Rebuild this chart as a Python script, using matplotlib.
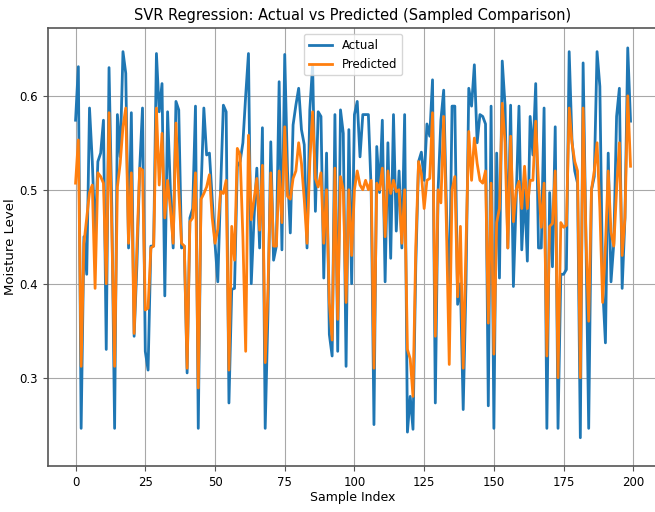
import numpy as np
import matplotlib
matplotlib.use("Agg")
import matplotlib.pyplot as plt

# sampled test points: measured vs SVR output
actual = [
    0.574, 0.631, 0.246, 0.450, 0.410, 0.587, 0.530, 0.449, 0.530, 0.539,
    0.574, 0.330, 0.630, 0.480, 0.246, 0.580, 0.535, 0.647, 0.624, 0.438,
    0.582, 0.344, 0.420, 0.523, 0.587, 0.328, 0.308, 0.440, 0.440, 0.645,
    0.583, 0.613, 0.387, 0.583, 0.500, 0.438, 0.594, 0.585, 0.438, 0.440,
    0.305, 0.470, 0.480, 0.589, 0.246, 0.500, 0.587, 0.537, 0.539, 0.490,
    0.443, 0.402, 0.500, 0.590, 0.583, 0.273, 0.394, 0.395, 0.525, 0.530,
    0.550, 0.600, 0.645, 0.400, 0.470, 0.523, 0.438, 0.566, 0.246, 0.370,
    0.551, 0.425, 0.440, 0.615, 0.436, 0.644, 0.520, 0.454, 0.569, 0.590,
    0.608, 0.564, 0.548, 0.438, 0.585, 0.633, 0.477, 0.583, 0.578, 0.406,
    0.539, 0.346, 0.323, 0.580, 0.328, 0.585, 0.560, 0.312, 0.564, 0.400,
    0.580, 0.594, 0.535, 0.580, 0.580, 0.580, 0.500, 0.250, 0.546, 0.497,
    0.574, 0.402, 0.550, 0.427, 0.580, 0.456, 0.520, 0.438, 0.580, 0.242,
    0.280, 0.245, 0.420, 0.530, 0.540, 0.510, 0.570, 0.557, 0.617, 0.273,
    0.500, 0.574, 0.606, 0.480, 0.376, 0.589, 0.589, 0.378, 0.400, 0.266,
    0.400, 0.608, 0.589, 0.633, 0.550, 0.580, 0.578, 0.570, 0.270, 0.589,
    0.246, 0.539, 0.406, 0.637, 0.590, 0.438, 0.590, 0.397, 0.490, 0.589,
    0.436, 0.500, 0.424, 0.578, 0.537, 0.613, 0.438, 0.438, 0.587, 0.246,
    0.497, 0.418, 0.567, 0.246, 0.410, 0.410, 0.415, 0.647, 0.553, 0.520,
    0.507, 0.236, 0.635, 0.450, 0.246, 0.500, 0.514, 0.647, 0.610, 0.397,
    0.337, 0.539, 0.402, 0.443, 0.578, 0.608, 0.395, 0.470, 0.651, 0.573,
]

predicted = [
    0.507, 0.553, 0.312, 0.443, 0.470, 0.497, 0.505, 0.395, 0.518, 0.514,
    0.507, 0.400, 0.582, 0.457, 0.312, 0.503, 0.528, 0.567, 0.587, 0.443,
    0.518, 0.347, 0.440, 0.523, 0.521, 0.372, 0.374, 0.438, 0.440, 0.587,
    0.505, 0.560, 0.470, 0.510, 0.480, 0.443, 0.571, 0.500, 0.443, 0.440,
    0.310, 0.466, 0.470, 0.518, 0.289, 0.490, 0.496, 0.503, 0.516, 0.470,
    0.443, 0.458, 0.498, 0.496, 0.510, 0.308, 0.461, 0.425, 0.544, 0.537,
    0.450, 0.328, 0.558, 0.468, 0.490, 0.512, 0.457, 0.526, 0.316, 0.394,
    0.518, 0.440, 0.440, 0.520, 0.465, 0.567, 0.493, 0.490, 0.512, 0.520,
    0.550, 0.528, 0.490, 0.443, 0.530, 0.583, 0.512, 0.503, 0.518, 0.443,
    0.500, 0.380, 0.340, 0.523, 0.362, 0.514, 0.500, 0.380, 0.500, 0.430,
    0.500, 0.520, 0.505, 0.500, 0.510, 0.500, 0.510, 0.310, 0.507, 0.500,
    0.523, 0.450, 0.520, 0.496, 0.510, 0.498, 0.500, 0.443, 0.500, 0.330,
    0.320, 0.280, 0.440, 0.530, 0.517, 0.480, 0.510, 0.512, 0.582, 0.344,
    0.500, 0.486, 0.578, 0.460, 0.314, 0.500, 0.514, 0.386, 0.461, 0.310,
    0.440, 0.562, 0.510, 0.555, 0.528, 0.510, 0.507, 0.520, 0.358, 0.507,
    0.325, 0.465, 0.480, 0.592, 0.550, 0.438, 0.557, 0.466, 0.500, 0.509,
    0.480, 0.525, 0.480, 0.510, 0.510, 0.573, 0.507, 0.460, 0.507, 0.323,
    0.461, 0.464, 0.520, 0.300, 0.465, 0.460, 0.462, 0.587, 0.550, 0.530,
    0.520, 0.300, 0.587, 0.450, 0.360, 0.500, 0.520, 0.550, 0.480, 0.380,
    0.440, 0.520, 0.455, 0.440, 0.500, 0.550, 0.430, 0.470, 0.600, 0.525,
]

sample_index = np.arange(len(actual))

plt.rcParams["font.family"] = ["DejaVu Sans"]

fig = plt.figure(figsize=(6.55, 5.12), dpi=100)
ax = fig.add_axes([0.073, 0.090, 0.932, 0.855])

ax.plot(sample_index, actual, color="#1f77b4", lw=2, label="Actual")
ax.plot(sample_index, predicted, color="#ff7f0e", lw=2, label="Predicted")

ax.set_ylim(0.206, 0.672)
ax.set_xticks(range(0, 201, 25))
ax.set_yticks([0.3, 0.4, 0.5, 0.6])
ax.tick_params(labelsize=8.5, color="#555555")
ax.grid(True, color="#a8a8a8", lw=0.8)
for sp in ax.spines.values():
    sp.set_color("#555555")
    sp.set_linewidth(1.2)

ax.set_title("SVR Regression: Actual vs Predicted (Sampled Comparison)", fontsize=10.5, pad=6)
ax.set_xlabel("Sample Index", fontsize=9, labelpad=2)
ax.set_ylabel("Moisture Level", fontsize=9.5, labelpad=2)
ax.legend(loc="upper center", fontsize=8.5)

fig.savefig("out.png", dpi=100)
